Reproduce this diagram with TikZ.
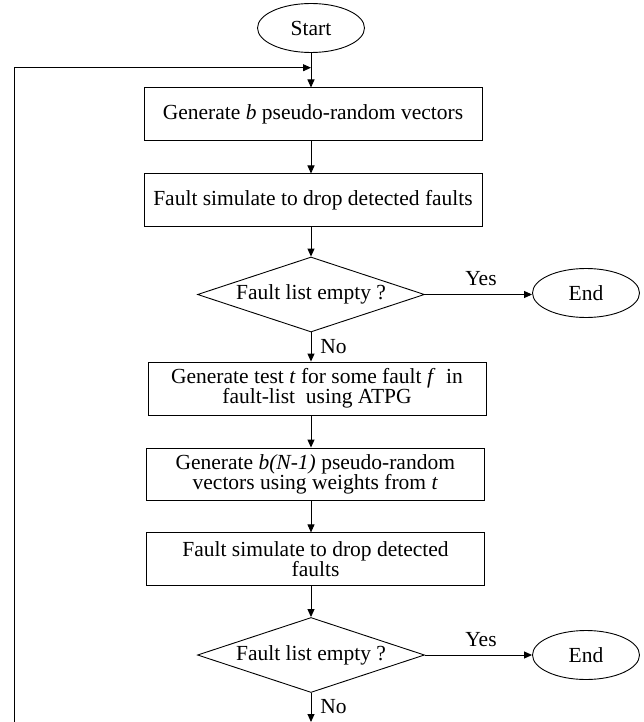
\documentclass[tikz,border=0pt]{standalone}
\usepackage{fontspec}
\setmainfont{Liberation Serif}
\usetikzlibrary{shapes.geometric,arrows.meta}
\begin{document}
\begin{tikzpicture}[x=1pt,y=-1pt,
  font=\fontsize{21.5}{20}\selectfont,
  line width=0.9pt,
  box/.style={draw, rectangle, minimum width=338pt, minimum height=52.7pt, inner sep=0pt, align=center},
  term/.style={draw, ellipse, minimum width=107pt, minimum height=49pt, inner sep=0pt},
  decision/.style={draw, diamond, aspect=3, minimum width=227pt, minimum height=75pt, inner sep=0pt},
  arr/.style={-{Triangle[length=8pt,width=7pt]}},
  lbl/.style={inner sep=0pt}]
\useasboundingbox (0,0) rectangle (643,722);

\node[term] (start) at (311,28) {Start};
\node[box] (b1) at (313,114.3) {Generate \textit{b} pseudo-random vectors};
\node[box] (b2) at (313,200.3) {Fault simulate to drop detected faults};
\node[decision] (d1) at (311,294.5) {Fault list empty ?};
\node[term] (e1) at (586,293) {End};
\node[box, minimum height=53pt] (b3) at (317,388.5) {Generate test \textit{t} for some fault \textit{f}\ \ in\\fault-list\ \ using ATPG};
\node[box, minimum height=52pt] (b4) at (315.3,474) {Generate \textit{b(N-1)} pseudo-random\\vectors using weights from \textit{t}};
\node[box, minimum height=52.3pt] (b5) at (315.5,559) {Fault simulate to drop detected\\faults};
\node[decision] (d2) at (311,655) {Fault list empty ?};
\node[term] (e2) at (586,655) {End};

\coordinate (loopbot) at (14,722);
\coordinate (looptop) at (14,67.7);
\coordinate (join) at (311,67.7);
\coordinate (exit) at (311,722);

\draw[arr] (start.south) -- (start.south |- b1.north);
\draw[arr] (start.south |- b1.south) -- (start.south |- b2.north);
\draw[arr] (start.south |- b2.south) -- (d1.north);
\draw[arr] (d1.south) -- (d1.south |- b3.north);
\draw[arr] (d1.south |- b3.south) -- (d1.south |- b4.north);
\draw[arr] (d1.south |- b4.south) -- (d1.south |- b5.north);
\draw[arr] (d1.south |- b5.south) -- (d2.north);
\draw[arr] (d2.south) -- (exit);
\draw[arr] (d1.east) -- (d1.east -| e1.west);
\draw[arr] (d2.east) -- (e2.west);
\draw[arr] (loopbot) -- (looptop) -- (join);

\node[lbl] (y1) at (481,279) {Yes};
\node[lbl, anchor=west] (n1) at (320,347) {No};
\node[lbl] (y2) at (481,640) {Yes};
\node[lbl, anchor=west] (n2) at (320,707) {No};
\end{tikzpicture}
\end{document}
